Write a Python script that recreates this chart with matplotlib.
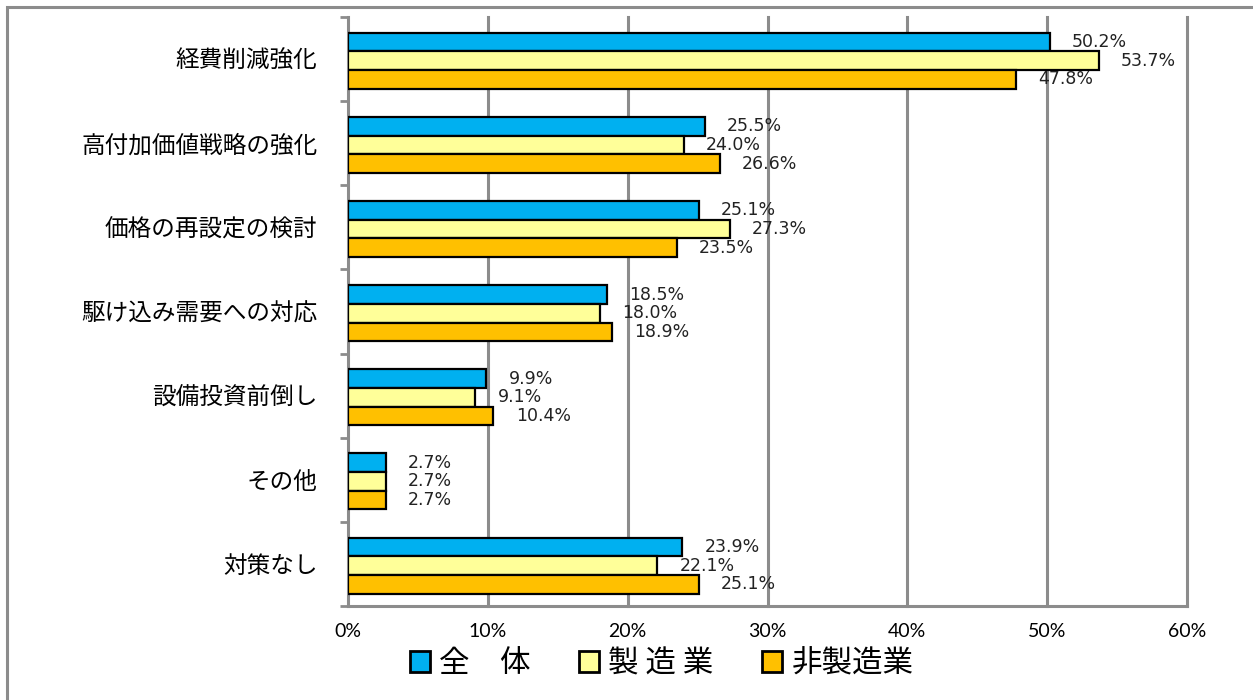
import matplotlib
matplotlib.use('Agg')
import matplotlib.pyplot as plt
from matplotlib.patches import Patch, Rectangle
import numpy as np

plt.rcParams['font.family'] = ['Noto Sans CJK JP', 'DejaVu Sans']

categories = ['経費削減強化', '高付加価値戦略の強化', '価格の再設定の検討', '駆け込み需要への対応',
              '設備投資前倒し', 'その他', '対策なし']
series_names = ['全　体', '製 造 業', '非製造業']
zentai = [50.2, 25.5, 25.1, 18.5, 9.9, 2.7, 23.9]
seizo = [53.7, 24.0, 27.3, 18.0, 9.1, 2.7, 22.1]
hiseizo = [47.8, 26.6, 23.5, 18.9, 10.4, 2.7, 25.1]
colors = ['#00B0F0', '#FFFF99', '#FFC000']
xticks = [0, 10, 20, 30, 40, 50, 60]

fig = plt.figure(figsize=(12.53, 7.0), dpi=100)
ax = fig.add_axes([348 / 1253, 1 - 606 / 700, (1187 - 348) / 1253, (606 - 17) / 700])

# outer frame of the chart area
fig.patches.append(Rectangle((7 / 1253, -0.1), 1.2, 1.1 - 7 / 700, transform=fig.transFigure,
                             fill=False, edgecolor='#8c8c8c', linewidth=2.2, zorder=0))

y = np.arange(len(categories))
h = 0.222
data = [zentai, seizo, hiseizo]
for i, vals in enumerate(data):
    pos = y + (i - 1) * h + 0.02
    ax.barh(pos, vals, height=h, color=colors[i], edgecolor='black', linewidth=1.6, zorder=3)
    for p, v in zip(pos, vals):
        ax.annotate(f'{v:.1f}%', xy=(v, p), xytext=(16, 0), textcoords='offset points',
                    ha='left', va='center', fontsize=12.5, family='DejaVu Sans', color='#222222')

ax.set_xlim(0, 60)
ax.set_ylim(len(categories) - 0.5, -0.5)
ax.set_xticks(xticks)
ax.set_xticklabels([f'{t}%' for t in xticks], fontsize=14, family='Lato')
ax.tick_params(axis='x', length=0, pad=12)
for t in xticks[1:]:
    ax.axvline(t, color='#8c8c8c', linewidth=2.2, zorder=1, clip_on=False)

ax.set_yticks(y)
ax.set_yticklabels(categories, fontsize=17)
ax.set_yticks(np.arange(len(categories) + 1) - 0.5, minor=True)
ax.tick_params(axis='y', which='major', length=0, pad=22)
ax.tick_params(axis='y', which='minor', length=5.5, width=2, color='#8c8c8c')

for s in ['top', 'right']:
    ax.spines[s].set_visible(False)
for s in ['left', 'bottom']:
    ax.spines[s].set_color('#8c8c8c')
    ax.spines[s].set_linewidth(2.2)

handles = [Patch(facecolor=c, edgecolor='black', linewidth=2) for c in colors]
fig.legend(handles, series_names, loc='center', bbox_to_anchor=(0.528, 0.052), ncol=3,
           frameon=False, fontsize=22, handlelength=0.65, handleheight=0.65,
           handletextpad=0.3, columnspacing=1.6)

fig.savefig('out.png', dpi=100)
